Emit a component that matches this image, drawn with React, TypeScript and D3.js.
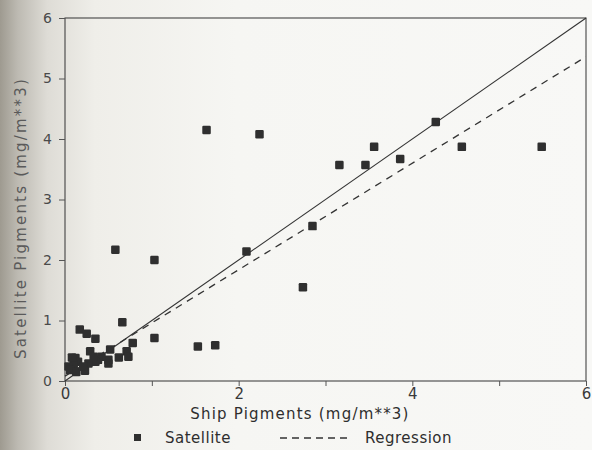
import { useEffect, useRef } from "react";
import * as d3 from "d3";

// Ship vs satellite pigment match-ups (mg/m**3)
const shipX = [
  1.63, 2.24, 4.27, 3.56, 3.16, 3.46, 3.86, 4.57, 5.49, 2.85, 2.09, 2.74,
  0.58, 1.03, 0.66, 0.17, 0.25, 0.35, 0.78, 1.03, 1.53, 1.73, 0.29, 0.52,
  0.71, 0.73, 0.62, 0.5, 0.5, 0.42, 0.38, 0.35, 0.27, 0.12, 0.15, 0.1,
  0.04, 0.06, 0.13, 0.23, 0.21, 0.33, 0.08,
];
const satY = [
  4.15, 4.08, 4.28, 3.87, 3.57, 3.57, 3.67, 3.87, 3.87, 2.56, 2.14, 1.55,
  2.17, 2.0, 0.97, 0.85, 0.78, 0.7, 0.63, 0.71, 0.57, 0.59, 0.49, 0.52,
  0.49, 0.4, 0.39, 0.35, 0.29, 0.4, 0.35, 0.32, 0.29, 0.38, 0.32, 0.27,
  0.24, 0.18, 0.15, 0.17, 0.24, 0.4, 0.39,
];

const xTicks = [0, 1, 2, 3, 4, 5, 6];
const xLabels = [0, 2, 4, 6];
const yTicks = [0, 1, 2, 3, 4, 5, 6];

// regression fit (dashed) and 1:1 line (solid)
const regIntercept = 0.08;
const regSlope = 0.88;
const lineRange = [0, 6];

const W = 592;
const H = 450;
const FONT = "DejaVu Sans, sans-serif";

export default function App() {
  const svgRef = useRef<SVGSVGElement>(null);

  useEffect(() => {
    if (!svgRef.current) return;
    const svg = d3.select(svgRef.current);
    svg.selectAll("*").remove();

    const margin = { left: 65, right: 6, top: 18, bottom: 69 };
    const w = W - margin.left - margin.right;
    const h = H - margin.top - margin.bottom;

    // ── paper background ───────────────────────────────────────────────
    const defs = svg.append("defs");
    const grad = defs.append("linearGradient").attr("id", "paper")
      .attr("x1", 0).attr("x2", 1).attr("y1", 0).attr("y2", 0);
    grad.append("stop").attr("offset", "0%").attr("stop-color", "#9e9a90");
    grad.append("stop").attr("offset", "3%").attr("stop-color", "#bdbab2");
    grad.append("stop").attr("offset", "8%").attr("stop-color", "#dedcd6");
    grad.append("stop").attr("offset", "16%").attr("stop-color", "#efeee9");
    grad.append("stop").attr("offset", "40%").attr("stop-color", "#f6f6f3");
    grad.append("stop").attr("offset", "100%").attr("stop-color", "#f8f8f6");
    svg.append("rect").attr("width", W).attr("height", H).attr("fill", "url(#paper)");

    const g = svg.append("g").attr("transform", `translate(${margin.left},${margin.top})`);

    const x = d3.scaleLinear().domain([0, 6]).range([0, w]);
    const y = d3.scaleLinear().domain([0, 6]).range([h, 0]);

    // ── frame ──────────────────────────────────────────────────────────
    g.append("rect")
      .attr("width", w).attr("height", h)
      .attr("fill", "none").attr("stroke", "#444").attr("stroke-width", 1.1);

    // ── axes ───────────────────────────────────────────────────────────
    g.append("g")
      .attr("transform", `translate(0,${h})`)
      .call(
        d3.axisBottom(x).tickValues(xTicks).tickSize(5).tickPadding(2)
          .tickFormat((v) => (xLabels.includes(Number(v)) ? String(v) : ""))
      )
      .call((ag) => ag.select(".domain").remove())
      .call((ag) => ag.selectAll(".tick line").attr("stroke", "#555"))
      .call((ag) => ag.selectAll(".tick text")
        .attr("fill", "#3a3a3a").attr("font-size", 15).attr("font-family", FONT));

    g.append("g")
      .call(d3.axisLeft(y).tickValues(yTicks).tickSize(6).tickPadding(7).tickFormat((v) => String(v)))
      .call((ag) => ag.select(".domain").remove())
      .call((ag) => ag.selectAll(".tick line").attr("stroke", "#555"))
      .call((ag) => ag.selectAll(".tick text")
        .attr("fill", "#4a4a4a").attr("font-size", 14).attr("font-family", FONT));

    // ── lines ──────────────────────────────────────────────────────────
    g.append("path").datum(lineRange)
      .attr("fill", "none").attr("stroke", "#333").attr("stroke-width", 1.1)
      .attr("d", d3.line<number>().x((d) => x(d)).y((d) => y(d)));

    g.append("path").datum(lineRange)
      .attr("fill", "none").attr("stroke", "#333").attr("stroke-width", 1.3)
      .attr("stroke-dasharray", "7,6")
      .attr("d", d3.line<number>().x((d) => x(d)).y((d) => y(regIntercept + regSlope * d)));

    // ── points ─────────────────────────────────────────────────────────
    const pts = shipX.map((v, i) => ({ sx: v, sy: satY[i] }));
    const s = 8.5;
    g.append("g").selectAll("rect").data(pts).join("rect")
      .attr("x", (d) => x(d.sx) - s / 2)
      .attr("y", (d) => y(d.sy) - s / 2)
      .attr("width", s).attr("height", s).attr("rx", 1.2)
      .attr("fill", "#2f2f2f");

    // ── titles ─────────────────────────────────────────────────────────
    svg.append("text")
      .attr("transform", `translate(26,218) rotate(-90)`)
      .attr("text-anchor", "middle")
      .attr("fill", "#5a5a5a").attr("font-size", 15).attr("letter-spacing", 2.2)
      .attr("font-family", FONT)
      .text("Satellite Pigments (mg/m**3)");

    svg.append("text")
      .attr("x", 300).attr("y", 419)
      .attr("text-anchor", "middle")
      .attr("fill", "#2e2e2e").attr("font-size", 15).attr("letter-spacing", 1.2)
      .attr("font-family", FONT)
      .text("Ship Pigments (mg/m**3)");

    // ── legend ─────────────────────────────────────────────────────────
    const lg = svg.append("g").attr("font-family", FONT)
      .attr("font-size", 15).attr("fill", "#2e2e2e");
    lg.append("rect").attr("x", 134).attr("y", 434).attr("width", 7).attr("height", 7)
      .attr("fill", "#2f2f2f");
    lg.append("text").attr("x", 165).attr("y", 443).attr("letter-spacing", 0.5).text("Satellite");
    lg.append("line").attr("x1", 280).attr("x2", 347).attr("y1", 438).attr("y2", 438)
      .attr("stroke", "#333").attr("stroke-width", 1.3).attr("stroke-dasharray", "7,5");
    lg.append("text").attr("x", 365).attr("y", 443).attr("letter-spacing", 0.5).text("Regression");
  }, []);

  return (
    <svg
      ref={svgRef}
      width={W}
      height={H}
      style={{ position: "absolute", left: 0, top: 0 }}
    />
  );
}
